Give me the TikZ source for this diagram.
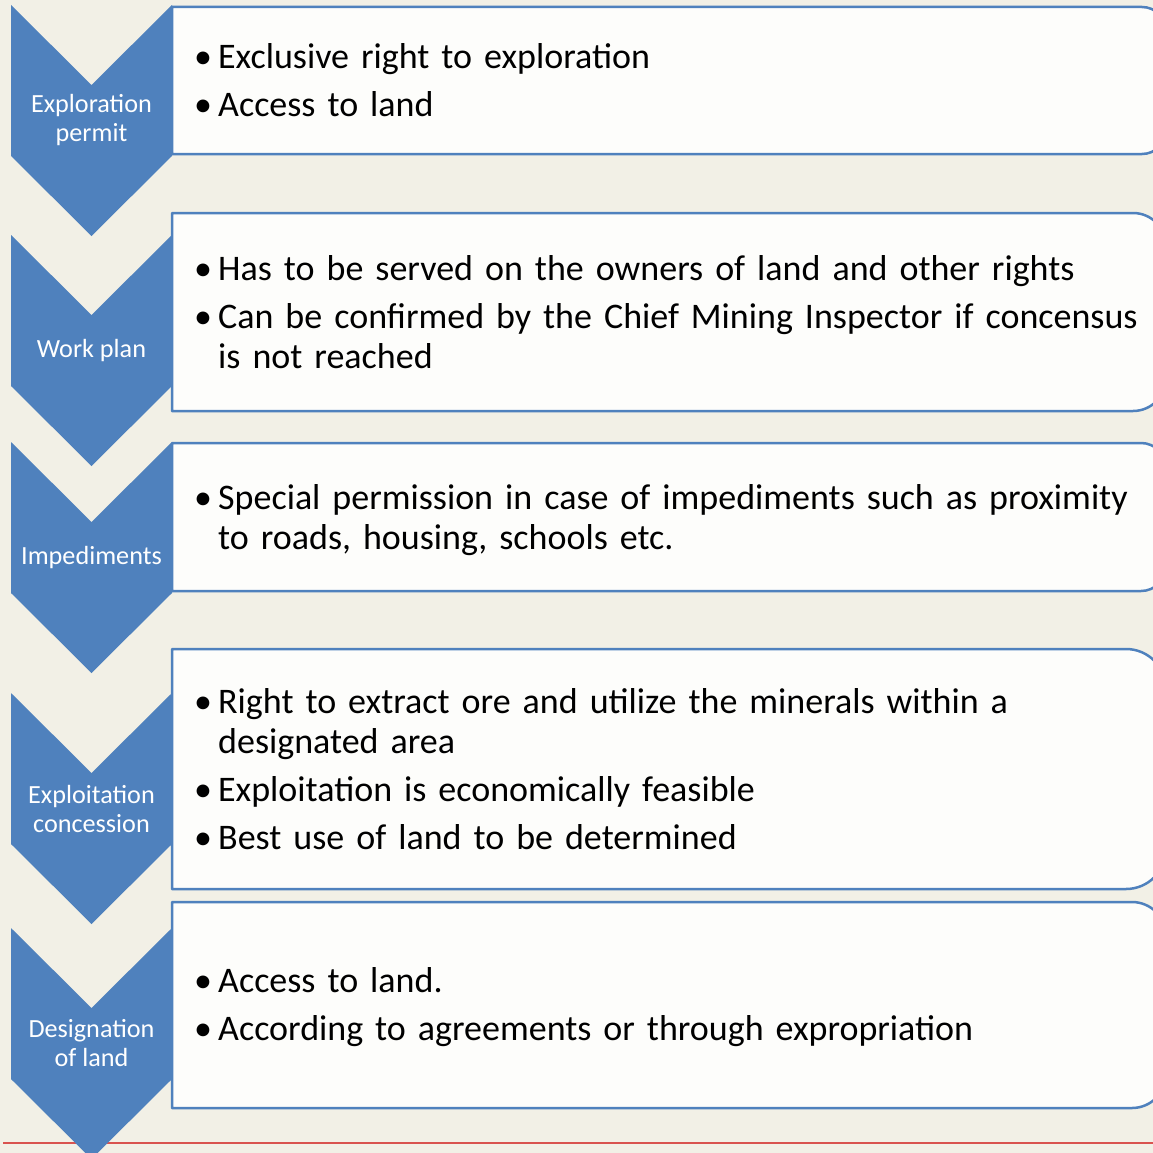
\documentclass[tikz,border=0pt]{standalone}
\usepackage{fontspec}
\setmainfont{Carlito}
\newfontfamily\labfont{Carlito}
\definecolor{bg}{HTML}{F2F0E6}
\definecolor{chev}{HTML}{4F81BD}
\definecolor{boxfill}{HTML}{FDFDFB}
\definecolor{redln}{HTML}{D9534F}
\newcommand{\bul}[1]{\par\leftskip=24pt\noindent\hskip-24pt\makebox[24pt][l]{\textbullet}\strut#1\par}
\tikzset{
  chevshape/.style={fill=chev},
  boxst/.style={fill=boxfill, draw=chev, line width=2.5pt, line join=round},
  lab/.style={text=white, font=\labfont\fontsize{26.2}{29}\selectfont, align=center, inner sep=0pt},
  txt/.style={anchor=north west, inner sep=0pt, text width=1000pt, align=left,
    font=\fontsize{36}{40}\selectfont\setlength{\parskip}{8pt}}
}
\begin{document}
\begin{tikzpicture}[x=1pt,y=-1pt]
\useasboundingbox (0,0) rectangle (1153,1153);
\clip (0,0) rectangle (1153,1153);
\fill[bg] (0,0) rectangle (1153,1153);
\draw[redln, line width=1.2pt] (3,1143) -- (1153,1143);
% chevrons
\foreach \t in {5,235,442,693,928}{
  \fill[chevshape] (11,\t) -- (91.5,\t+80) -- (172,\t) -- (172,\t+151) -- (91.5,\t+231) -- (11,\t+151) -- cycle;
}
% boxes
\foreach \a/\b/\r in {7/154/24,213/411/33,443/591/25,649/889/40,902/1108/34}{
  \filldraw[boxst] (172,\b) -- (172,\a) -- (1166-\r,\a) arc[start angle=-90,end angle=0,radius=\r] -- (1166,\b-\r) arc[start angle=0,end angle=90,radius=\r] -- cycle;
}
% labels
\node[lab] (l1) at (91.5,120.5) {Exploration\\permit};
\node[lab] (l2) at (91.5,350.5) {Work plan};
\node[lab] (l3) at (91.5,557.5) {Impediments};
\node[lab] (l4) at (91.5,808.5) {Exploitation\\concession};
\node[lab] (l5) at (91.5,1043.5) {Designation\\of land};
% texts
\node[txt] (t1) at (194,20) {\bul{Exclusive right to exploration}\bul{Access to land}};
\node[txt] (t2) at (194,232) {\bul{Has to be served on the owners of land and other rights}\bul{Can be confirmed by the Chief Mining Inspector if concensus\newline\strut is not reached}};
\node[txt] (t3) at (194,461) {\bul{Special permission in case of impediments such as proximity\newline\strut to roads, housing, schools etc.}};
\node[txt] (t4) at (194,665) {\bul{Right to extract ore and utilize the minerals within a\newline\strut designated area}\bul{Exploitation is economically feasible}\bul{Best use of land to be determined}};
\node[txt] (t5) at (194,944) {\bul{Access to land.}\bul{According to agreements or through expropriation}};
\end{tikzpicture}
\end{document}
